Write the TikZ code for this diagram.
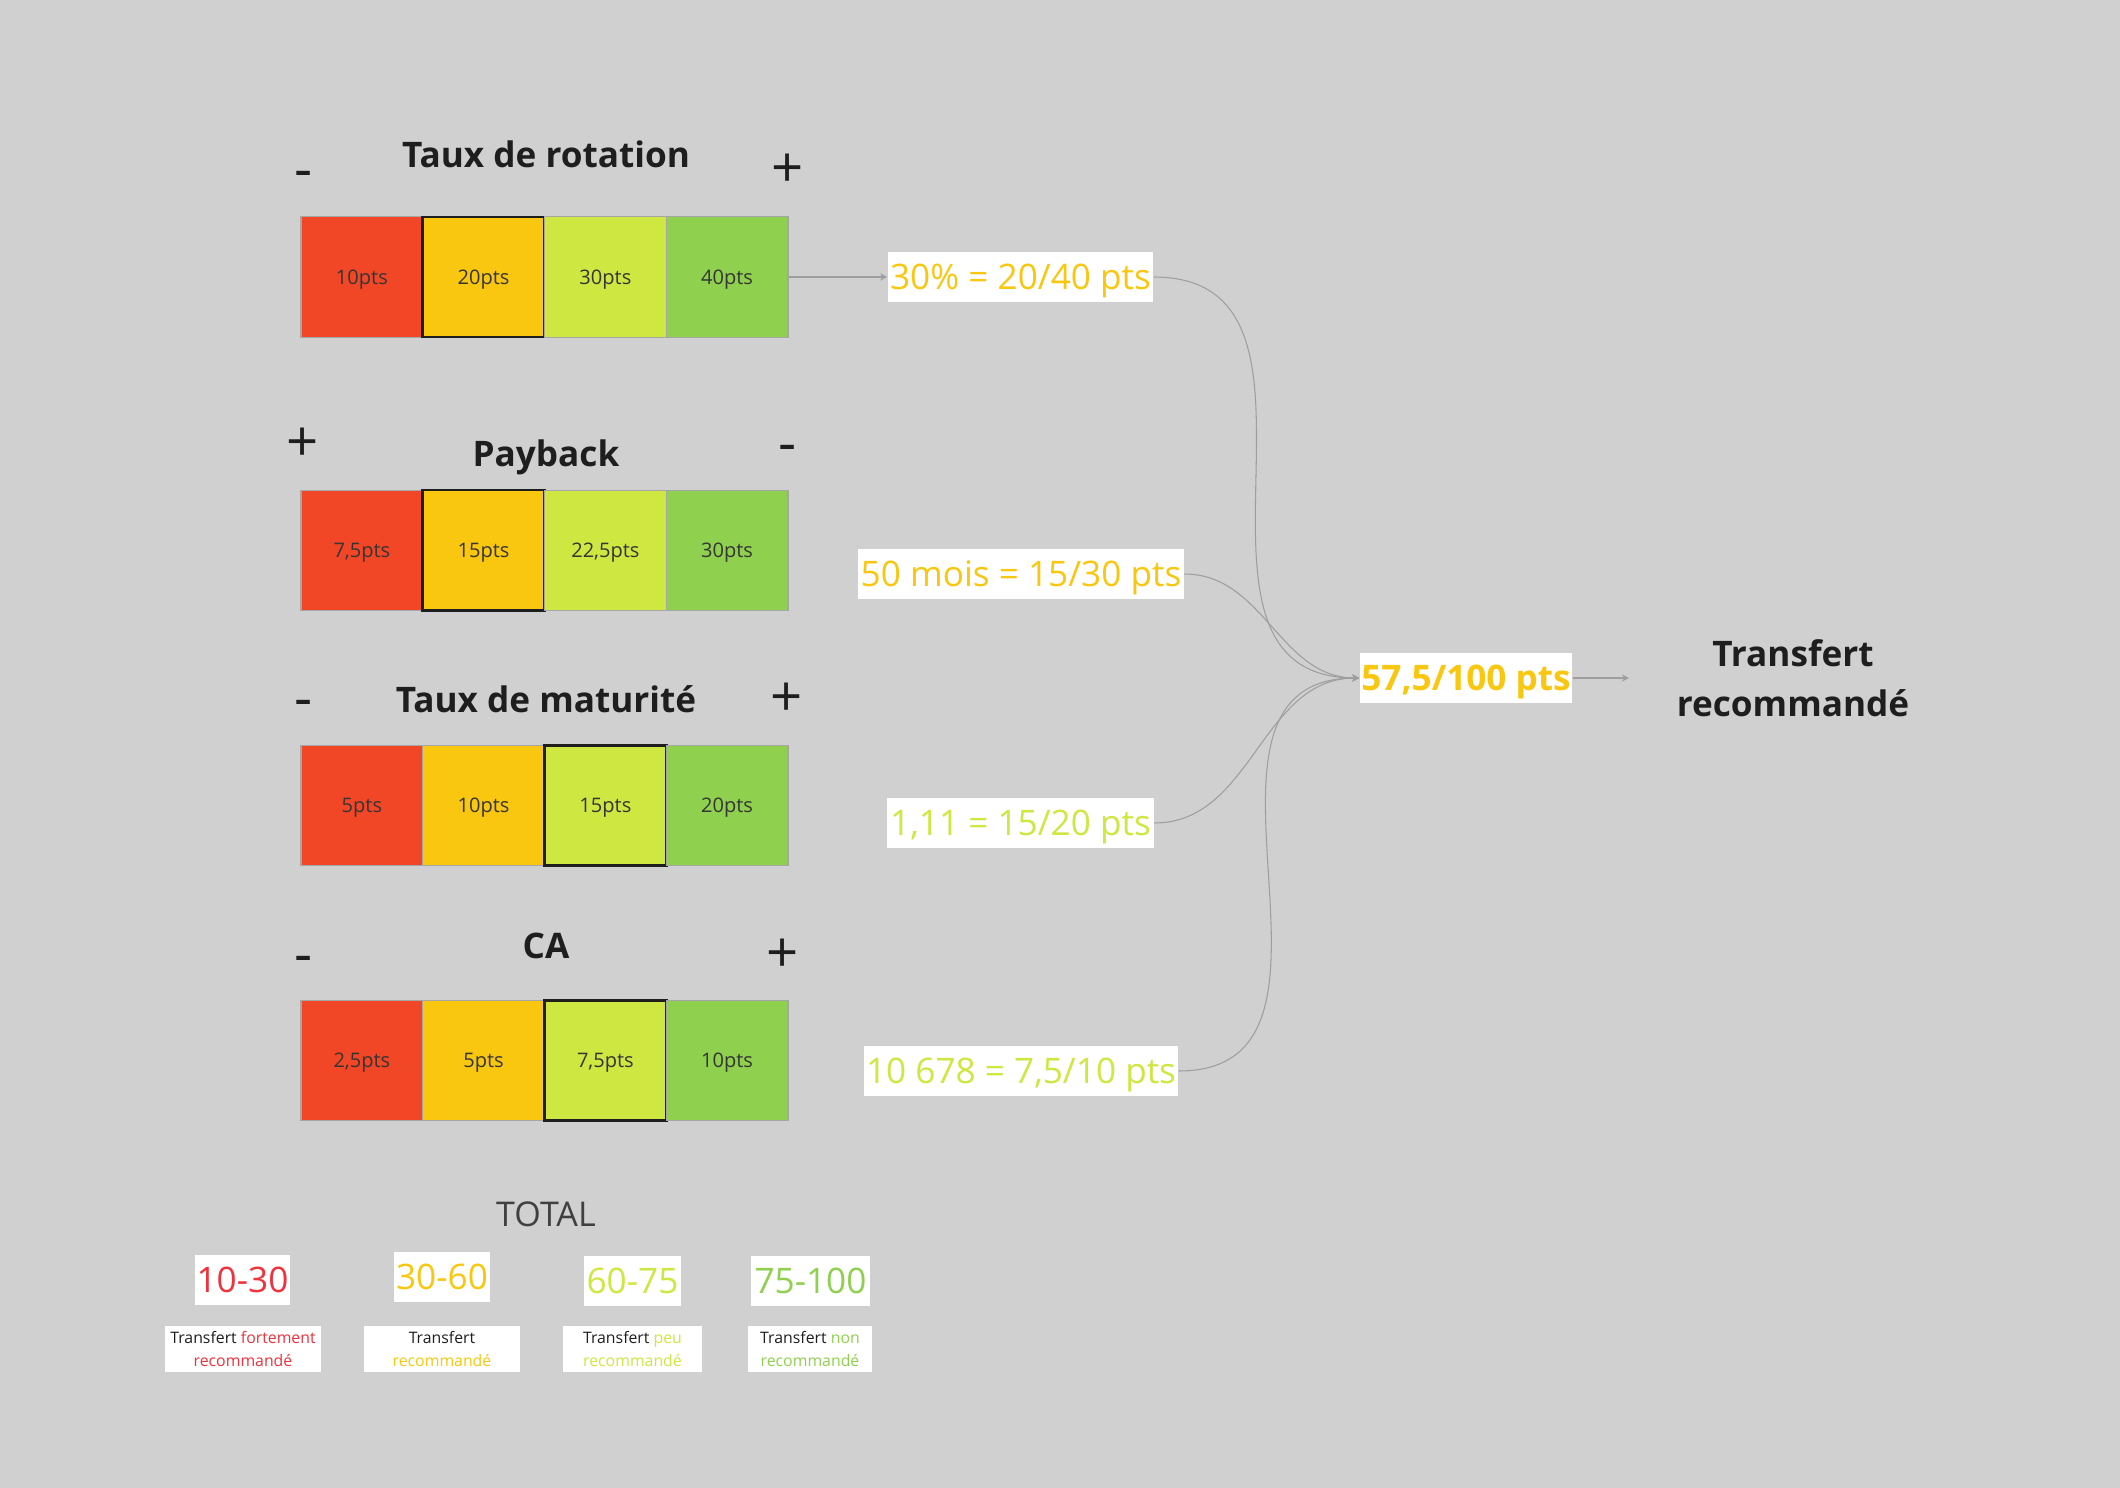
\documentclass[tikz,border=0pt]{standalone}
\usepackage{fontspec}
\setmainfont{Open Sans}
\usetikzlibrary{arrows.meta}
\definecolor{bg}{HTML}{D0D0D0}
\definecolor{mred}{HTML}{F24726}
\definecolor{myel}{HTML}{FAC710}
\definecolor{mlime}{HTML}{CEE741}
\definecolor{mgreen}{HTML}{8FD14F}
\definecolor{tred}{HTML}{F0323C}
\definecolor{ink}{HTML}{1E1E1E}
\tikzset{
 cell/.style={draw=black!35, line width=0.3pt, minimum width=1.2175cm, minimum height=1.2cm, inner sep=0pt, text depth=0pt, text=ink!90, font=\fontsize{5.7}{7}\selectfont},
 sel/.style={draw=ink, line width=0.7pt},
 title/.style={font=\fontsize{10}{12}\selectfont\bfseries, text=ink, inner sep=0pt},
 sign/.style={font=\fontsize{16}{18}\selectfont, text=ink, inner sep=0pt},
 val/.style={fill=white, inner sep=0pt, minimum height=0.5cm, text depth=0pt, font=\fontsize{10}{12}\selectfont},
 conn/.style={draw=black!38, line width=0.3pt, -{Stealth[length=2pt,width=2pt]}},
 rng/.style={fill=white, inner sep=0pt, minimum height=0.5cm, font=\fontsize{10}{12}\selectfont},
 desc/.style={fill=white, inner sep=0pt, minimum height=0.45cm, align=center, font=\fontsize{4.5}{6.8}\selectfont, text=ink},
}
\begin{document}
\begin{tikzpicture}[x=0.01cm,y=-0.01cm]
\fill[bg] (0,0) rectangle (2120,1488);
\useasboundingbox (0,0) rectangle (2120,1488);

% Row 1
\node[title, anchor=base] (t1) at (546,168) {Taux de rotation};
\node[sign] (m1) at (304,180) {-};
\node[sign] (p1) at (788,171) {+};
\node[cell, fill=mred] (r1c1) at (361.9,277) {10pts};
\node[cell, fill=myel, sel] (r1c2) at (483.6,277) {20pts};
\node[cell, fill=mlime] (r1c3) at (605.4,277) {30pts};
\node[cell, fill=mgreen] (r1c4) at (727.1,277) {40pts};

% Row 2
\node[title, anchor=base] (t2) at (546,466) {Payback};
\node[sign] (p2) at (303,445) {+};
\node[sign] (m2) at (788,454) {-};
\node[cell, fill=mred] (r2c1) at (361.9,550.3) {7,5pts};
\node[cell, fill=myel, sel] (r2c2) at (483.6,550.3) {15pts};
\node[cell, fill=mlime] (r2c3) at (605.4,550.3) {22,5pts};
\node[cell, fill=mgreen] (r2c4) at (727.1,550.3) {30pts};

% Row 3
\node[title, anchor=base] (t3) at (546,712) {Taux de maturité};
\node[sign] (m3) at (304,709) {-};
\node[sign] (p3) at (787,700) {+};
\node[cell, fill=mred] (r3c1) at (361.9,805.5) {5pts};
\node[cell, fill=myel] (r3c2) at (483.6,805.5) {10pts};
\node[cell, fill=mlime, sel] (r3c3) at (605.4,805.5) {15pts};
\node[cell, fill=mgreen] (r3c4) at (727.1,805.5) {20pts};

% Row 4
\node[title, anchor=base] (t4) at (546,958) {CA};
\node[sign] (m4) at (304,965) {-};
\node[sign] (p4) at (783,956) {+};
\node[cell, fill=mred] (r4c1) at (361.9,1060.5) {2,5pts};
\node[cell, fill=myel] (r4c2) at (483.6,1060.5) {5pts};
\node[cell, fill=mlime, sel] (r4c3) at (605.4,1060.5) {7,5pts};
\node[cell, fill=mgreen] (r4c4) at (727.1,1060.5) {10pts};

% values
\node[val, text=myel, minimum width=2.65cm] (v1) at (1020.5,277) {30\% = 20/40 pts};
\node[val, text=myel, minimum width=3.25cm] (v2) at (1021,574) {50 mois = 15/30 pts};
\node[val, text=mlime, minimum width=2.66cm] (v3) at (1020.5,823) {1,11 = 15/20 pts};
\node[val, text=mlime, minimum width=3.14cm] (v4) at (1021,1071) {10 678 = 7,5/10 pts};
\node[val, text=myel, minimum width=2.12cm, font=\fontsize{10}{12}\selectfont\bfseries] (tot) at (1466,678) {57,5/100 pts};
\coordinate (endp) at (1629,678);
\node[title, align=center, font=\fontsize{10}{14.2}\selectfont\bfseries] (res) at (1793,678) {Transfert\\recommandé};

\draw[conn] (r1c4.east) -- (v1.west);
\draw[conn] (v1.east) to[out=0,in=180,looseness=1.2] (tot.west);
\draw[conn] (v2.east) to[out=0,in=180] (tot.west);
\draw[conn] (v3.east) to[out=0,in=180] (tot.west);
\draw[conn] (v4.east) to[out=0,in=180,looseness=1.2] (tot.west);
\draw[conn] (tot.east) -- (endp);

% legend
\node[font=\fontsize{9.7}{12}\selectfont, text=ink!85, inner sep=0pt] (total) at (546,1214) {TOTAL};
\node[rng, text=tred, minimum width=0.94cm] (g1) at (242.5,1280) {10-30};
\node[rng, text=myel, minimum width=0.95cm] (g2) at (442,1277) {30-60};
\node[rng, text=mlime, minimum width=0.96cm] (g3) at (632.5,1281) {60-75};
\node[rng, text=mgreen, minimum width=1.18cm] (g4) at (810.5,1281) {75-100};
\node[desc, minimum width=1.56cm] (d1) at (243,1349) {Transfert \textcolor{tred}{fortement}\\\textcolor{tred}{recommandé}};
\node[desc, minimum width=1.55cm] (d2) at (442,1349) {Transfert\\\textcolor{myel}{recommandé}};
\node[desc, minimum width=1.39cm] (d3) at (632.5,1349) {Transfert \textcolor{mlime}{peu}\\\textcolor{mlime}{recommandé}};
\node[desc, minimum width=1.24cm] (d4) at (810,1349) {Transfert \textcolor{mgreen}{non}\\\textcolor{mgreen}{recommandé}};
\end{tikzpicture}
\end{document}
